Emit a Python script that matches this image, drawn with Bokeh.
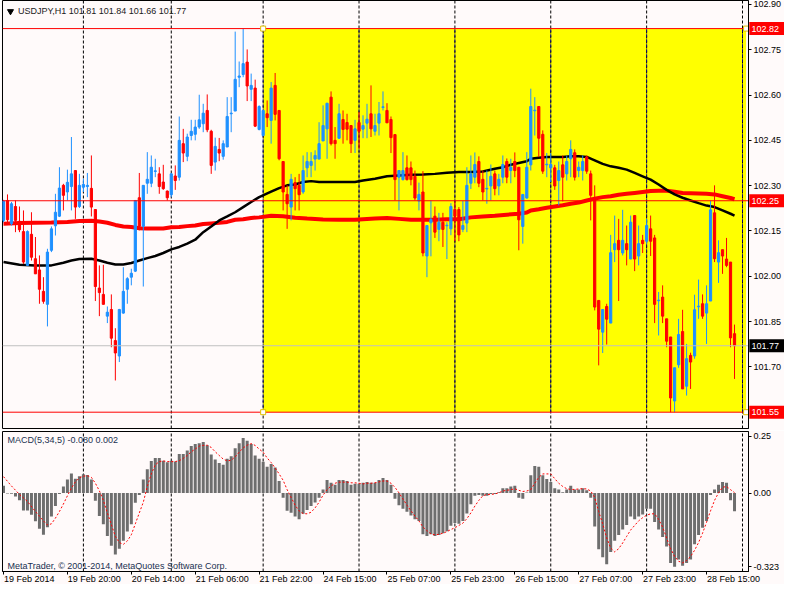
from bokeh.plotting import figure
from bokeh.layouts import column
from bokeh.models import Range1d, FixedTicker, NumeralTickFormatter
from bokeh.core.properties import value
from bokeh.embed import file_html
from bokeh.resources import INLINE

# ---------------- data (USDJPY H1) ----------------
opens = [102.185,102.251,102.174,102.231,102.182,102.148,102.036,102.139,102.058,102.021,
101.950,101.907,102.086,102.167,102.199,102.301,102.279,102.297,102.350,102.231,
102.295,102.297,102.291,102.221,101.961,101.940,101.868,101.890,101.787,101.736,
101.878,101.957,101.997,102.017,102.260,102.165,102.308,102.308,102.347,102.339,
102.312,102.282,102.270,102.332,102.328,102.439,102.397,102.466,102.470,102.494,
102.505,102.549,102.480,102.378,102.420,102.397,102.428,102.538,102.547,102.659,
102.668,102.709,102.619,102.623,102.486,102.466,102.538,102.516,102.632,102.549,
102.380,102.271,102.229,102.310,102.301,102.279,102.359,102.367,102.388,102.388,
102.448,102.488,102.593,102.450,102.457,102.519,102.509,102.499,102.450,102.509,
102.487,102.507,102.538,102.480,102.507,102.559,102.549,102.519,102.469,102.328,
102.320,102.359,102.359,102.331,102.249,102.279,102.067,102.177,102.199,102.155,
102.179,102.167,102.157,102.221,102.221,102.155,102.176,102.308,102.328,102.380,
102.321,102.289,102.299,102.339,102.299,102.328,102.380,102.350,102.380,102.361,
102.165,102.259,102.369,102.548,102.562,102.470,102.369,102.359,102.359,102.317,
102.369,102.339,102.389,102.409,102.350,102.350,102.395,102.339,102.259,101.920,
101.815,101.900,101.845,102.088,102.119,102.077,102.108,102.057,102.201,102.067,
102.119,102.116,102.157,102.127,101.919,101.931,101.859,101.799,101.587,101.707,
101.817,101.636,101.738,101.736,101.899,101.909,101.878,101.918,102.210,102.047,
102.088,102.057,102.047,101.810]
highs = [102.253,102.271,102.246,102.251,102.231,102.218,102.152,102.212,102.130,102.069,
101.997,102.091,102.165,102.273,102.361,102.306,102.353,102.461,102.350,102.339,
102.323,102.342,102.400,102.221,102.036,102.038,101.900,101.940,101.828,101.892,
102.030,101.997,102.025,102.251,102.342,102.301,102.411,102.400,102.389,102.361,
102.369,102.284,102.342,102.367,102.529,102.488,102.472,102.518,102.518,102.601,
102.571,102.602,102.485,102.459,102.458,102.450,102.593,102.593,102.810,102.711,
102.820,102.751,102.671,102.651,102.566,102.549,102.582,102.643,102.673,102.549,
102.380,102.301,102.339,102.328,102.339,102.400,102.411,102.411,102.417,102.510,
102.566,102.573,102.612,102.494,102.571,102.549,102.538,102.499,102.518,102.544,
102.533,102.571,102.632,102.538,102.577,102.612,102.573,102.529,102.469,102.350,
102.411,102.400,102.380,102.350,102.310,102.348,102.168,102.251,102.231,102.210,
102.210,102.179,102.242,102.248,102.229,102.249,102.361,102.400,102.410,102.397,
102.350,102.350,102.370,102.350,102.339,102.400,102.390,102.389,102.410,102.361,
102.271,102.411,102.621,102.593,102.562,102.483,102.408,102.408,102.369,102.380,
102.400,102.400,102.450,102.420,102.380,102.400,102.400,102.350,102.301,101.920,
101.890,101.909,102.137,102.201,102.190,102.220,102.168,102.201,102.201,102.168,
102.137,102.190,102.201,102.137,101.948,101.970,101.859,101.799,101.697,101.859,
101.889,101.776,101.747,101.939,101.989,101.940,101.970,102.249,102.301,102.119,
102.088,102.127,102.047,101.840]
lows = [102.179,102.174,102.168,102.146,102.146,102.041,102.036,102.052,102.008,101.909,
101.909,101.834,102.080,102.135,102.196,102.218,102.251,102.218,102.190,102.226,
102.279,102.262,102.198,101.918,101.868,101.907,101.845,101.765,101.655,101.716,
101.876,101.909,101.970,102.014,102.152,101.966,102.273,102.295,102.328,102.273,
102.286,102.251,102.262,102.286,102.317,102.378,102.381,102.450,102.450,102.488,
102.477,102.477,102.339,102.350,102.381,102.386,102.428,102.477,102.547,102.626,
102.659,102.580,102.580,102.494,102.483,102.464,102.494,102.439,102.516,102.384,
102.218,102.157,102.185,102.218,102.218,102.273,102.328,102.328,102.350,102.388,
102.448,102.389,102.433,102.389,102.455,102.439,102.450,102.408,102.408,102.422,
102.457,102.457,102.461,102.466,102.466,102.549,102.508,102.408,102.251,102.218,
102.317,102.317,102.301,102.251,102.218,102.066,101.997,102.066,102.127,102.116,
102.097,102.057,102.136,102.116,102.116,102.146,102.146,102.289,102.308,102.295,
102.251,102.240,102.251,102.268,102.268,102.308,102.308,102.308,102.328,102.086,
102.108,102.257,102.350,102.466,102.395,102.339,102.328,102.312,102.286,102.235,
102.248,102.317,102.328,102.317,102.328,102.317,102.339,102.185,101.887,101.705,
101.746,101.774,101.845,102.047,101.918,102.069,102.036,102.057,102.017,102.036,
102.077,102.108,102.067,101.845,101.804,101.845,101.765,101.550,101.550,101.697,
101.627,101.605,101.627,101.727,101.859,101.859,101.776,101.918,102.047,101.978,
102.008,102.030,101.765,101.660]
closes = [102.249,102.187,102.240,102.185,102.154,102.047,102.148,102.063,102.008,101.957,
101.917,102.080,102.157,102.212,102.292,102.268,102.311,102.339,102.229,102.301,
102.304,102.301,102.229,101.966,101.946,101.907,101.881,101.795,101.746,101.890,
101.950,101.992,102.010,102.251,102.165,102.301,102.321,102.361,102.349,102.297,
102.290,102.260,102.339,102.317,102.450,102.408,102.461,102.480,102.494,102.518,
102.540,102.485,102.367,102.430,102.408,102.439,102.529,102.540,102.652,102.663,
102.704,102.630,102.632,102.497,102.562,102.549,102.525,102.623,102.536,102.389,
102.279,102.240,102.321,102.290,102.270,102.350,102.380,102.380,102.400,102.439,
102.499,102.573,102.439,102.439,102.538,102.486,102.487,102.439,102.488,102.480,
102.499,102.520,102.488,102.499,102.538,102.561,102.508,102.459,102.320,102.350,
102.350,102.320,102.320,102.259,102.271,102.077,102.168,102.188,102.146,102.179,
102.155,102.169,102.231,102.199,102.137,102.168,102.301,102.339,102.370,102.308,
102.279,102.291,102.331,102.290,102.321,102.370,102.328,102.361,102.350,102.187,
102.271,102.361,102.562,102.550,102.457,102.348,102.371,102.370,102.299,102.350,
102.328,102.380,102.420,102.328,102.361,102.380,102.348,102.268,101.898,101.825,
101.890,101.858,102.078,102.108,102.088,102.119,102.088,102.179,102.057,102.108,
102.108,102.168,102.116,101.907,101.921,101.868,101.785,101.597,101.697,101.807,
101.627,101.727,101.716,101.889,101.901,101.868,101.909,102.220,102.058,102.078,
102.067,102.036,101.796,101.770]

# moving averages (read at bar positions)
ma_black_bar = [0,4,8,12,15,17,19,22,24,26,28,30,32,34,36,38,40,42,44,46,48,50,52,54,56,58,60,62,64,
                67,69,71,73,75,77,79,82,85,88,90,93,96,99,102,105,108,111,114,117,120,123,125,127,129,
                131,132,134,136,140,142,144,146,148,150,152,154,156,158,160,162,164,166,168,170,172,
                174,176,178,180,182,183]
ma_black_val = [102.047,102.038,102.036,102.036,102.045,102.052,102.057,102.058,102.052,102.045,102.039,
                102.039,102.044,102.052,102.060,102.067,102.077,102.089,102.097,102.108,102.121,102.146,
                102.165,102.185,102.198,102.212,102.229,102.246,102.262,102.280,102.292,102.301,102.304,
                102.312,102.315,102.312,102.312,102.312,102.312,102.317,102.323,102.331,102.334,102.336,
                102.337,102.339,102.343,102.345,102.345,102.347,102.356,102.361,102.369,102.375,102.381,
                102.389,102.392,102.395,102.395,102.397,102.397,102.395,102.384,102.372,102.364,102.359,
                102.353,102.342,102.331,102.320,102.304,102.286,102.271,102.260,102.251,102.242,102.234,
                102.229,102.218,102.207,102.201]
ma_red_bar = [0,4,8,12,16,19,22,24,26,28,30,32,34,36,40,42,44,46,48,50,52,54,56,58,60,62,64,67,70,73,
              76,80,84,88,90,93,96,99,102,105,108,111,114,117,120,123,126,129,131,132,134,136,138,140,
              142,144,146,148,150,152,154,156,158,160,162,164,166,168,170,172,174,176,178,180,182,183]
ma_red_val = [102.174,102.176,102.177,102.178,102.180,102.183,102.184,102.181,102.177,102.170,102.165,
              102.163,102.159,102.158,102.158,102.162,102.163,102.166,102.168,102.173,102.175,102.177,
              102.180,102.187,102.189,102.193,102.195,102.200,102.199,102.194,102.191,102.188,102.187,
              102.187,102.189,102.191,102.193,102.190,102.187,102.187,102.187,102.189,102.189,102.195,
              102.198,102.200,102.204,102.207,102.211,102.218,102.222,102.227,102.231,102.235,102.240,
              102.244,102.251,102.257,102.262,102.265,102.270,102.273,102.276,102.279,102.282,102.283,
              102.283,102.280,102.276,102.275,102.274,102.273,102.271,102.265,102.259,102.255]

# MACD(5,34,5)
macd_hist = [0.032,-0.002,-0.003,-0.015,-0.032,-0.076,-0.076,-0.095,-0.124,-0.156,
-0.183,-0.150,-0.103,-0.057,-0.004,0.029,0.059,0.086,0.063,0.074,
0.082,0.079,0.060,-0.034,-0.101,-0.137,-0.188,-0.231,-0.269,-0.244,
-0.209,-0.169,-0.137,-0.043,-0.009,0.059,0.104,0.141,0.154,0.154,
0.142,0.135,0.142,0.138,0.171,0.171,0.187,0.206,0.215,0.219,
0.224,0.210,0.169,0.147,0.132,0.124,0.151,0.162,0.197,0.219,
0.241,0.229,0.215,0.165,0.151,0.137,0.115,0.127,0.112,0.053,
-0.021,-0.078,-0.086,-0.103,-0.115,-0.091,-0.074,-0.057,-0.041,-0.021,
0.016,0.057,0.045,0.037,0.057,0.057,0.053,0.037,0.041,0.041,
0.045,0.049,0.045,0.045,0.057,0.066,0.057,0.037,-0.025,-0.053,
-0.069,-0.082,-0.098,-0.115,-0.123,-0.181,-0.188,-0.181,-0.188,-0.184,
-0.176,-0.168,-0.143,-0.131,-0.135,-0.123,-0.090,-0.049,-0.012,-0.009,
-0.012,-0.012,-0.004,-0.004,0.004,0.021,0.021,0.029,0.032,-0.021,
-0.025,0.003,0.078,0.119,0.115,0.078,0.062,0.049,0.021,0.016,
0.004,0.016,0.032,0.016,0.016,0.021,0.012,-0.021,-0.147,-0.246,
-0.282,-0.312,-0.258,-0.209,-0.184,-0.160,-0.140,-0.103,-0.115,-0.103,
-0.094,-0.069,-0.069,-0.127,-0.160,-0.193,-0.234,-0.307,-0.323,-0.291,
-0.319,-0.307,-0.291,-0.225,-0.184,-0.152,-0.123,-0.009,0.016,0.037,
0.049,0.045,-0.032,-0.080]
sig_bar = [0,2,4,6,8] + list(range(10, 184))
macd_signal = [0.072,0.031,-0.006,-0.037,-0.081,
-0.122,-0.140,-0.135,-0.110,-0.081,-0.048,-0.012,0.022,0.049,0.067,
0.074,0.076,0.069,0.043,0.010,-0.032,-0.087,-0.138,-0.190,-0.217,
-0.225,-0.210,-0.183,-0.135,-0.087,-0.040,0.029,0.084,0.124,0.138,
0.141,0.138,0.138,0.138,0.142,0.152,0.165,0.181,0.193,0.206,
0.209,0.210,0.200,0.181,0.165,0.149,0.141,0.144,0.159,0.179,
0.198,0.210,0.217,0.209,0.193,0.179,0.154,0.134,0.110,0.084,
0.056,0.015,-0.019,-0.053,-0.078,-0.090,-0.091,-0.084,-0.065,-0.040,
-0.009,0.015,0.031,0.043,0.048,0.048,0.048,0.045,0.045,0.043,
0.040,0.043,0.043,0.045,0.049,0.053,0.053,0.043,0.025,0.001,
-0.026,-0.053,-0.078,-0.101,-0.122,-0.149,-0.165,-0.179,-0.183,-0.181,
-0.176,-0.169,-0.160,-0.152,-0.142,-0.132,-0.112,-0.087,-0.057,-0.032,
-0.012,-0.006,-0.006,-0.004,0.001,0.009,0.012,0.015,0.019,0.012,
0.007,0.009,0.015,0.043,0.069,0.084,0.084,0.084,0.063,0.043,
0.029,0.019,0.016,0.016,0.018,0.019,0.018,0.009,-0.019,-0.081,
-0.135,-0.197,-0.241,-0.258,-0.244,-0.219,-0.190,-0.162,-0.142,-0.122,
-0.108,-0.097,-0.091,-0.091,-0.115,-0.149,-0.197,-0.244,-0.278,-0.299,
-0.306,-0.296,-0.278,-0.251,-0.217,-0.176,-0.128,-0.078,-0.032,0.001,
0.025,0.029,0.015,0.002]

time_tick_bars = [0, 16, 32, 48, 64, 80, 96, 112, 128, 144, 160, 176]
time_tick_labels = ["19 Feb 2014", "19 Feb 20:00", "20 Feb 14:00", "21 Feb 06:00", "21 Feb 22:00",
                    "24 Feb 15:00", "25 Feb 07:00", "25 Feb 23:00", "26 Feb 15:00", "27 Feb 07:00",
                    "27 Feb 23:00", "28 Feb 15:00"]
day_grid_bars = [20, 42, 65, 89, 113, 137, 161, 185]
price_ticks = [102.90, 102.75, 102.60, 102.45, 102.30, 102.15, 102.00, 101.85, 101.70]
hline_levels = [102.82, 102.25, 101.55]
bid_price = 101.77
rect_left_bar, rect_right_bar = 65, 185.9
rect_top, rect_bottom = 102.82, 101.55
macd_ticks = [0.25, 0.0, -0.323]
title_text = "USDJPY,H1  101.81 101.84 101.66 101.77"
macd_text = "MACD(5,34,5) -0.080 0.002"
copyright_text = "MetaTrader, \u00a9 2001-2014, MetaQuotes Software Corp."

# ---------------- styling ----------------
BG = "#FFFAFA"
BULL = "#1E90FF"
BEAR = "#FF0000"
FONT = "Liberation Sans"
FS = "9px"
W = 784
RB = 35  # right border (price scale)

n = len(opens)
xs = list(range(n))
colors = [BULL if c >= o else BEAR for o, c in zip(opens, closes)]
body_top = [max(o, c) for o, c in zip(opens, closes)]
body_bot = [min(o, c) for o, c in zip(opens, closes)]

xr = Range1d(-0.25, 186.5)
YMIN, YMAX = 101.496, 102.913

p = figure(width=W, height=430, x_range=xr, y_range=Range1d(YMIN, YMAX),
           x_axis_location=None, y_axis_location="right",
           output_backend="svg", toolbar_location=None,
           min_border_left=2, min_border_right=RB, min_border_top=0, min_border_bottom=2,
           background_fill_color=BG, border_fill_color=BG,
           outline_line_color="black", outline_line_width=1)
p.grid.visible = False
ya = p.yaxis[0]
ya.ticker = FixedTicker(ticks=price_ticks)
ya.formatter = NumeralTickFormatter(format="0.00")
ya.major_tick_out = 3
ya.major_tick_in = 0
ya.minor_tick_out = 0
ya.minor_tick_in = 0
ya.major_label_standoff = 2
ya.axis_line_color = "black"
ya.major_label_text_font = FONT
ya.major_label_text_font_size = FS
ya.major_label_text_color = "black"

# background rectangle
p.quad(left=[rect_left_bar], right=[rect_right_bar], top=[rect_top], bottom=[rect_bottom],
       fill_color="#FFFF00", line_color=None)
# day separators
p.segment(x0=day_grid_bars, x1=day_grid_bars, y0=[YMIN] * len(day_grid_bars), y1=[YMAX] * len(day_grid_bars),
          line_color="black", line_dash="3 2", line_width=1)
inside = [b for b in day_grid_bars if rect_left_bar <= b <= rect_right_bar]
p.segment(x0=inside, x1=inside, y0=[rect_bottom] * len(inside), y1=[rect_top] * len(inside),
          line_color="#000080", line_dash="3 2", line_width=1)

# moving averages
p.line(ma_red_bar, ma_red_val, line_color="#FF0000", line_width=4)
p.line(ma_black_bar, ma_black_val, line_color="black", line_width=2.5)

# candles
p.segment(x0=xs, x1=xs, y0=lows, y1=highs, line_color=colors, line_width=1)
p.vbar(x=xs, top=body_top, bottom=body_bot, width=0.55, fill_color=colors, line_color=colors, line_width=1)

# horizontal lines
nh = len(hline_levels)
p.segment(x0=[xr.start] * nh, x1=[xr.end] * nh, y0=hline_levels, y1=hline_levels,
          line_color="#FF0000", line_width=1)
p.segment(x0=[xr.start], x1=[xr.end], y0=[bid_price], y1=[bid_price], line_color="#C0C0C0", line_width=1)

# rectangle handles
hx = [rect_left_bar, rect_left_bar, rect_right_bar, rect_right_bar]
hy = [rect_top, rect_bottom, rect_top, rect_bottom]
p.scatter(hx, hy, marker="square", size=5, fill_color="white", line_color="#E0C000", line_width=1)

# price labels on the axis (overlay level so that they can sit on the price scale)
lab_levels = hline_levels + [bid_price]
lab_colors = ["#FF0000"] * nh + ["#000000"]
half_h = 0.0215
p.quad(left=[xr.end + 0.2] * len(lab_levels), right=[xr.end + 9.5] * len(lab_levels),
       bottom=[v - half_h for v in lab_levels], top=[v + half_h for v in lab_levels],
       fill_color=lab_colors, line_color=None, level="overlay")
p.text(x=[xr.end + 0.75] * len(lab_levels), y=lab_levels, text=["%.2f" % v for v in lab_levels],
       text_font=value(FONT), text_font_size=value(FS), text_color="white",
       text_align="left", text_baseline="middle", level="overlay")

# title
p.scatter([1.75], [102.877], marker="inverted_triangle", size=6, fill_color="black", line_color="black")
p.text(x=[3.6], y=[102.877], text=[title_text], text_font=value(FONT), text_font_size=value(FS),
       text_color="#202020", text_align="left", text_baseline="middle")

# ---------------- MACD ----------------
MMIN, MMAX = -0.344, 0.270
m = figure(width=W, height=154, x_range=xr, y_range=Range1d(MMIN, MMAX),
           y_axis_location="right", x_axis_location="below",
           output_backend="svg", toolbar_location=None,
           min_border_left=2, min_border_right=RB, min_border_top=1, min_border_bottom=13,
           background_fill_color=BG, border_fill_color=BG,
           outline_line_color="black", outline_line_width=1)
m.grid.visible = False
my = m.yaxis[0]
my.ticker = FixedTicker(ticks=macd_ticks)
my.major_label_overrides = {0.25: "0.25", 0.0: "0.00", -0.323: "-0.323"}
my.major_tick_out = 3
my.major_tick_in = 0
my.minor_tick_out = 0
my.minor_tick_in = 0
my.major_label_standoff = 2
my.axis_line_color = "black"
my.major_label_text_font = FONT
my.major_label_text_font_size = FS
my.major_label_text_color = "black"

mx = m.xaxis[0]
mx.ticker = FixedTicker(ticks=time_tick_bars)
mx.major_tick_out = 3
mx.major_tick_in = 0
mx.minor_tick_out = 0
mx.minor_tick_in = 0
mx.axis_line_color = "black"
mx.major_label_text_color = None
mx.major_label_text_font_size = "1px"
mx.major_label_standoff = 0

m.segment(x0=day_grid_bars, x1=day_grid_bars, y0=[MMIN] * len(day_grid_bars), y1=[MMAX] * len(day_grid_bars),
          line_color="black", line_dash="3 2", line_width=1)
m.vbar(x=xs, top=macd_hist, bottom=0, width=0.75, fill_color="#6E6E6E", line_color=None)
m.line(sig_bar, macd_signal, line_color="#FF0000", line_width=1, line_dash="2 2")

m.text(x=[1.0], y=[0.231], text=[macd_text], text_font=value(FONT), text_font_size=value(FS),
       text_color="#203050", text_align="left", text_baseline="middle")
m.text(x=[1.0], y=[-0.318], text=[copyright_text], text_font=value(FONT), text_font_size=value(FS),
       text_color="#203050", text_align="left", text_baseline="middle")

# time labels start at their tick, as in the terminal
m.text(x=[b + 0.1 for b in time_tick_bars], y=[-0.376] * len(time_tick_bars), text=time_tick_labels,
       text_font=value(FONT), text_font_size=value(FS), text_color="black",
       text_align="left", text_baseline="middle", level="overlay")

layout = column(p, m)
open("out.html", "w").write(file_html(layout, INLINE))
